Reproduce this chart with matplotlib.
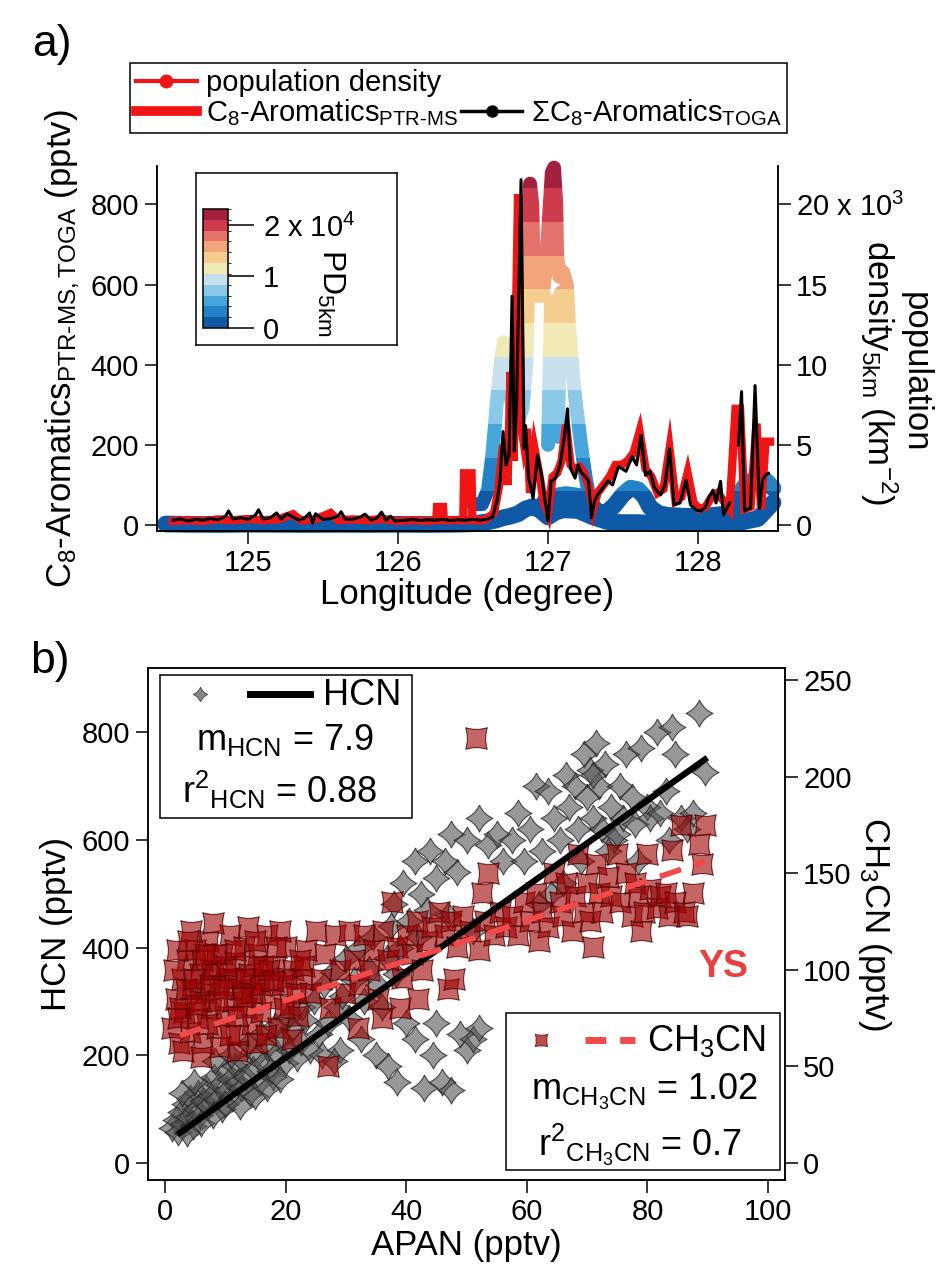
import numpy as np
import matplotlib
matplotlib.use("Agg")
import matplotlib.pyplot as plt
from matplotlib.path import Path
from matplotlib.lines import Line2D
from matplotlib.patches import Rectangle
from matplotlib.colors import BoundaryNorm, ListedColormap
from matplotlib.cm import ScalarMappable

plt.rcParams['font.family'] = ['Liberation Sans', 'DejaVu Sans']
plt.rcParams['mathtext.fontset'] = 'custom'
plt.rcParams['mathtext.rm'] = 'Liberation Sans'
plt.rcParams['mathtext.it'] = 'Liberation Sans:italic'
plt.rcParams['mathtext.bf'] = 'Liberation Sans:bold'
plt.rcParams['mathtext.default'] = 'regular'
plt.rcParams['axes.linewidth'] = 1.1

# ------------------------------------------------------------
# panel a data: longitude tracks
# ------------------------------------------------------------
# population density (km-2), passes of the flight track (nan = break)
pd_lon_1 = [124.45, 124.6, 124.8, 125.0, 125.2, 125.4, 125.6, 125.8, 126.0, 126.2,
            126.4, 126.5, 126.6, 126.65, 126.7, 126.75, 126.8, 126.85, 126.9, 126.95,
            127.0, 127.05, 127.1, 127.2, 127.3, 127.4, 127.5, 127.6, 127.7, 127.8,
            127.9, 128.0, 128.1, 128.2, 128.3, 128.4, 128.45, 128.5]
pd_val_1 = [60, 40, 30, 50, 40, 30, 40, 30, 40, 30,
            50, 80, 200, 300, 450, 550, 700, 1000, 1150, 900,
            500, 800, 950, 900, 500, 200, 150, 150, 100, 100,
            80, 100, 120, 150, 200, 400, 900, 1400]

pd_lon_2 = [126.50, 126.56, 126.60, 126.63, 126.66, 126.69, 126.705, 126.72, 126.74, 126.77,
            126.80, 126.83, 126.855, 126.87, 126.88, 126.895, 126.905, 126.93, 126.965, 126.985,
            127.005, 127.025, 127.04, 127.055, 127.06, 127.075, 127.10, 127.125, 127.14, 127.16,
            127.18, 127.20, 127.22, 127.25, 127.28, 127.32, np.nan,
            127.00, 127.02, np.nan, 127.065, 127.085]
pd_val_2 = [1300, 1300, 2200, 4500, 7800, 10500, 11400, 10300, 8500, 7000,
            6500, 7300, 10000, 16000, 21300, 20000, 16000, 14300, 14300, 16000,
            19000, 22000, 22300, 20000, 17000, 15500, 15800, 15000, 12500, 10000,
            8000, 6500, 5000, 3000, 1500, 600, np.nan,
            5000, 14000, np.nan, 5500, 14500]

pd_lon_3 = [126.98, 127.05, 127.12, 127.20, 127.27, 127.32, 127.38, 127.44, 127.50, 127.55,
            127.60, 127.64, 127.68, 127.74, 127.80, 127.90, 128.00, 128.10, 128.20, 128.26,
            128.30, 128.34, 128.40, 128.46, 128.50]
pd_val_3 = [1500, 1800, 1900, 1800, 1500, 900, 700, 1200, 1900, 2300,
            2200, 1800, 1100, 700, 600, 550, 550, 600, 700, 1200,
            2300, 2700, 2800, 2700, 2300]

pd_levels = [0, 2100, 4200, 6300, 8400, 10500, 12600, 14700, 16800, 18900, 21000, 23100]
pd_colors = ['#0f5aa6', '#2383c6', '#46a6dc', '#8cc8e8', '#c6e0ee', '#f1eab6',
             '#f5cd8e', '#f1a578', '#e4726a', '#cd3b4d', '#a3213f']

# C8-aromatics PTR-MS (pptv)
ptr_lon = [124.50, 124.60, 124.70, 124.80, 124.90, 125.00, 125.10, 125.20, 125.30, 125.35,
           125.45, 125.55, 125.60, 125.70, 125.80, 125.90, 126.00, 126.10, 126.20, 126.255,
           126.26, 126.30, 126.305, 126.40, 126.435, 126.44, 126.49, 126.495, 126.58, 126.64,
           126.67, 126.70, 126.73, 126.75, 126.77, 126.80, 126.82, 126.84, 126.86, 126.88,
           126.91, 126.94, 126.97, 127.00, 127.03, 127.06, 127.09, 127.12, 127.15, 127.18,
           127.21, 127.24, 127.27, 127.30, 127.33, 127.37, 127.41, 127.45, 127.49, 127.53,
           127.57, 127.61, 127.65, 127.69, 127.73, 127.77, 127.81, 127.85, 127.89, 127.93,
           127.97, 128.01, 128.05, 128.09, 128.13, 128.17, 128.21, 128.25, 128.28, 128.31,
           128.35, 128.39, 128.42, 128.45, 128.48]
ptr_val = [10, 12, 10, 14, 12, 15, 12, 14, 27, 12,
           14, 30, 12, 14, 12, 15, 10, 12, 10, 12,
           45, 45, 12, 12, 12, 129, 129, 12, 12, 30,
           90, 200, 100, 382, 160, 825, 250, 200, 240, 80,
           190, 130, 60, 30, 120, 130, 160, 250, 150, 140,
           145, 130, 100, 40, 80, 100, 120, 150, 150, 160,
           180, 233, 140, 120, 80, 90, 190, 60, 70, 130,
           55, 40, 45, 70, 80, 60, 40, 290, 290, 40,
           45, 253, 40, 208, 208]

# sum of C8-aromatics TOGA (pptv)
toga_lon = [124.50, 124.55, 124.60, 124.65, 124.70, 124.75, 124.80, 124.85, 124.87, 124.90,
            124.95, 125.00, 125.05, 125.07, 125.10, 125.15, 125.19, 125.22, 125.26, 125.30,
            125.34, 125.38, 125.41, 125.43, 125.45, 125.50, 125.55, 125.60, 125.62, 125.65,
            125.70, 125.75, 125.78, 125.82, 125.86, 125.89, 125.92, 125.95, 125.98, 126.05,
            126.10, 126.15, 126.20, 126.25, 126.30, 126.35, 126.40, 126.45, 126.50, 126.55,
            126.60, 126.63, 126.66, 126.68, 126.70, 126.72, 126.74, 126.76, 126.775, 126.79,
            126.82, 126.84, 126.85, 126.87, 126.90, 126.93, 126.96, 126.98, 127.00, 127.02,
            127.05, 127.08, 127.11, 127.13, 127.15, 127.18, 127.20, 127.22, 127.25, 127.27,
            127.29, 127.31, 127.33, 127.36, 127.40, 127.43, 127.47, 127.52, 127.56, 127.59,
            127.62, 127.65, 127.68, 127.71, 127.75, 127.78, 127.81, 127.84, 127.88, 127.92,
            127.95, 127.99, 128.02, 128.05, 128.07, 128.10, 128.12, 128.15, 128.17, 128.19,
            128.21, 128.24, 128.27, 128.29, 128.31, 128.33, 128.35, 128.38, 128.41, 128.43,
            128.45, 128.47]
toga_val = [12, 15, 10, 14, 12, 16, 13, 22, 35, 15,
            18, 14, 25, 38, 15, 18, 30, 15, 28, 20,
            12, 18, 30, 5, 28, 14, 16, 22, 33, 14,
            15, 20, 27, 12, 18, 32, 12, 22, 10, 12,
            14, 11, 13, 12, 14, 11, 13, 12, 14, 12,
            15, 20, 60, 110, 233, 150, 174, 571, 184, 300,
            862, 191, 248, 120, 67, 174, 117, 60, 10, 109,
            117, 149, 224, 290, 141, 117, 150, 132, 120, 109,
            18, 60, 75, 90, 110, 100, 146, 134, 171, 150,
            224, 124, 134, 92, 75, 100, 191, 50, 55, 112,
            50, 37, 35, 45, 67, 87, 55, 109, 25, 40,
            55, np.nan, 200, 333, 35, 40, 42, 348, 42, 112,
            125, 129]

# ------------------------------------------------------------
# panel b data: HCN and CH3CN vs APAN (pptv)
# ------------------------------------------------------------
hcn_apan = [1.2, 1.8, 2.1, 2.6, 3.0, 3.3, 3.9, 4.2, 4.6, 5.1,
            5.5, 5.9, 6.3, 6.8, 7.2, 7.7, 8.1, 8.6, 9.0, 9.4,
            9.9, 10.3, 10.8, 11.2, 11.7, 12.1, 12.6, 13.0, 13.5, 14.1,
            14.6, 15.2, 15.7, 16.3, 16.9, 17.4, 18.0, 18.6, 19.3, 19.9,
            20.6, 21.2, 21.9, 22.5, 23.2, 24.0, 2.8, 4.8, 6.0, 7.9,
            10.0, 12.4, 14.9, 17.0, 19.0, 3.6, 8.3, 11.0, 13.8, 16.0,
            20.2, 22.8, 18.3,
            24.8, 25.5, 26.3, 27.0, 27.8, 28.5, 29.3, 30.0, 30.6, 31.4,
            32.1, 33.0, 33.8, 34.5, 35.3, 36.0, 36.8, 37.5, 38.3, 39.0,
            29.0, 32.5, 35.0, 37.0, 38.5, 40.0, 26.0, 28.0,
            41.5, 43.0, 44.5, 46.0, 47.5, 49.0, 50.0, 51.0, 52.0, 45.0,
            38.0, 39.5, 40.5, 41.5, 42.5, 43.5, 44.0, 45.0, 46.5, 47.5,
            48.5, 50.0, 51.0, 52.0, 53.5, 55.0, 56.0, 42.0, 47.0,
            57.5, 58.5, 59.5, 60.5, 61.5, 62.5, 63.5, 64.5, 65.5, 66.5,
            67.0, 68.0, 68.5, 69.5, 70.0, 70.5, 71.0, 71.5, 72.0, 72.5,
            73.0, 74.0, 74.5, 75.5, 76.0, 76.5, 77.5, 78.0, 79.0, 80.0,
            80.5, 81.5, 82.0, 83.0, 84.0, 84.5, 85.5, 86.5, 87.5, 88.5,
            89.5, 69.0, 66.0, 73.5, 78.5, 62.0, 64.0, 71.0, 75.0, 83.5]
hcn_val = [65, 80, 58, 95, 72, 110, 85, 120, 68, 100,
           130, 90, 115, 140, 105, 125, 160, 118, 145, 100,
           170, 135, 155, 120, 180, 150, 140, 190, 160, 130,
           175, 200, 150, 185, 215, 170, 160, 205, 230, 185,
           210, 250, 195, 225, 265, 210, 130, 150, 75, 90,
           110, 105, 125, 140, 155, 55, 190, 200, 220, 240,
           270, 290, 255,
           300, 240, 330, 260, 355, 290, 310, 380, 270, 340,
           400, 300, 360, 420, 330, 290, 380, 440, 350, 400,
           210, 230, 200, 180, 150, 260, 200, 190,
           230, 140, 200, 150, 135, 240, 210, 230, 250, 260,
           480, 520, 450, 560, 500, 470, 580, 530, 560, 610,
           540, 600, 430, 640, 590, 610, 560, 420, 460,
           600, 650, 560, 620, 700, 580, 690, 640, 600, 720,
           660, 700, 620, 760, 680, 730, 640, 780, 700, 620,
           740, 660, 600, 700, 640, 760, 680, 630, 770, 660,
           640, 800, 650, 690, 810, 760, 640, 620, 650, 835,
           725, 560, 520, 580, 560, 480, 500, 720, 610, 600]

ch3cn_apan = [1.2, 1.8, 2.3, 2.8, 3.2, 3.7, 4.1, 4.5, 5.0, 5.4,
              5.9, 6.3, 6.8, 7.2, 7.7, 8.1, 8.6, 9.0, 9.5, 9.9,
              10.4, 10.8, 11.3, 11.7, 12.2, 12.6, 13.1, 13.5, 14.0, 14.5,
              15.0, 15.5, 16.0, 16.5, 17.0, 17.6, 18.2, 18.8, 19.4, 20.0,
              20.7, 21.3, 22.0, 22.7, 23.4, 24.1, 3.0, 6.0, 9.2, 12.0,
              15.2, 4.4, 8.0, 13.8, 19.0, 2.0, 7.0, 10.8, 16.8, 21.0,
              11.4, 7.6, 5.8, 14.7,
              1.5, 2.5, 3.5, 4.8, 6.1, 7.4, 8.8, 10.1, 11.6, 13.3,
              14.2, 15.8, 17.3, 18.5, 20.3, 21.8, 23.0, 2.2, 5.2, 8.4,
              12.9, 16.2, 19.7, 3.9, 9.7, 14.9, 6.6, 11.9, 17.9, 22.4,
              25.0, 25.8, 26.6, 27.4, 28.2, 29.0, 29.8, 30.6, 31.4, 32.2,
              33.0, 33.8, 34.6, 35.4, 36.2, 37.0, 37.6, 38.5, 39.3, 40.2,
              41.0, 41.8, 42.6, 43.5, 44.3, 27.0, 36.0, 39.0, 32.0, 42.0,
              45.5, 46.5, 47.5, 48.5, 49.5, 50.5, 51.5, 52.0, 53.0, 53.5,
              54.5, 55.5, 56.5, 57.5, 58.5, 59.5, 47.0, 48.0, 52.5,
              60.5, 61.5, 62.5, 63.5, 64.5, 65.5, 66.0, 66.5, 67.5, 68.0,
              68.5, 69.5, 70.0, 70.5, 71.5, 72.0, 72.5, 73.5, 74.0, 75.0,
              75.5, 76.5, 77.5, 78.0, 78.5, 79.5, 80.0, 80.5, 81.5, 82.0,
              83.0, 83.5, 84.0, 84.5, 85.5, 86.0, 86.5, 87.5, 88.5, 89.0,
              89.5, 62.0, 71.0, 79.0]
ch3cn_val = [70, 85, 62, 95, 78, 105, 68, 90, 110, 75,
             98, 62, 88, 115, 80, 100, 70, 92, 108, 76,
             96, 118, 84, 104, 66, 90, 112, 80, 98, 72,
             88, 108, 78, 95, 118, 85, 102, 70, 92, 112,
             82, 100, 76, 95, 110, 88, 58, 55, 60, 58,
             62, 120, 124, 122, 120, 110, 72, 66, 66, 64,
             95, 100, 84, 102,
             100, 80, 90, 95, 105, 92, 84, 102, 110, 96,
             88, 92, 100, 112, 96, 88, 102, 75, 82, 108,
             86, 102, 80, 115, 90, 115, 108, 76, 94, 105,
             120, 95, 108, 80, 118, 100, 88, 120, 105, 92,
             118, 100, 110, 85, 120, 105, 135, 112, 96, 118,
             108, 125, 100, 115, 122, 50, 75, 80, 70, 85,
             130, 118, 125, 112, 128, 120, 220, 110, 125, 150,
             118, 130, 122, 128, 118, 135, 90, 95, 140,
             125, 140, 130, 122, 150, 135, 128, 145, 120, 138,
             160, 130, 145, 125, 155, 140, 130, 148, 138, 160,
             135, 150, 128, 145, 138, 130, 160, 142, 132, 138,
             140, 128, 162, 135, 175, 130, 128, 140, 165, 155,
             175, 115, 112, 120]

fit_apan = [2.5, 89.5]
hcn_fit = [56, 749]
ch3cn_fit = [66, 156]

W, H = 944, 1285


def box(l, t, r, b):
    # pixel box -> figure fraction rect
    return [l / W, 1 - b / H, (r - l) / W, (b - t) / H]


fig = plt.figure(figsize=(W / 100, H / 100), dpi=100)

# ------------------------------------------------------------
# panel a
# ------------------------------------------------------------
ax_a = fig.add_axes(box(157, 166, 778, 531))
ax_pd = ax_a.twinx()
ax_a.set_zorder(ax_pd.get_zorder() + 1)
ax_a.patch.set_visible(False)

tracks = [(pd_lon_1, pd_val_1, 12), (pd_lon_3, pd_val_3, 12), (pd_lon_2, pd_val_2, 10)]
band_lo = [-5000] + pd_levels[1:-1]
band_hi = pd_levels[1:-1] + [40000]
for i, col in enumerate(pd_colors):
    clip = Rectangle((124.0, band_lo[i]), 5.0, band_hi[i] - band_lo[i], transform=ax_pd.transData)
    for lon, val, lw in tracks:
        ln, = ax_pd.plot(lon, val, color=col, lw=lw, solid_capstyle='round',
                         solid_joinstyle='round')
        ln.set_clip_path(clip)

ax_a.plot(ptr_lon, ptr_val, color='#f01414', lw=6, solid_joinstyle='miter')
ax_a.plot(toga_lon, toga_val, color='black', lw=2.2)

ax_a.set_xlim(124.393, 128.533)
ax_a.set_ylim(-15, 896)
ax_pd.set_ylim(-375, 22400)
ax_a.set_xticks([125, 126, 127, 128])
ax_a.set_yticks([0, 200, 400, 600, 800])
ax_pd.set_yticks([0, 5000, 10000, 15000, 20000])
ax_pd.set_yticklabels(['0', '5', '10', '15', '20 x 10$^3$'])
for a in (ax_a, ax_pd):
    a.spines['top'].set_visible(False)
    a.tick_params(direction='out', length=9, width=1.1, labelsize=21, pad=4)

ax_a.set_xlabel('Longitude (degree)', fontsize=25, labelpad=1)
ax_a.set_ylabel('C$_8$-Aromatics$_{PTR\u2010MS,TOGA}$ (pptv)', fontsize=25, labelpad=6)
fig.text(0.948, 0.710, 'population\ndensity$_{5km}$ (km$^{-2}$)', rotation=-90,
         ha='center', va='center', fontsize=25, multialignment='center', linespacing=1.0)
fig.text(0.055, 0.965, 'a)', fontsize=32, ha='center', va='center')

# colorbar inset
frame = fig.add_axes(box(196, 173, 397, 345))
frame.set_xticks([])
frame.set_yticks([])
frame.set_facecolor('white')
cax = fig.add_axes(box(203, 209, 228, 328))
norm = BoundaryNorm(pd_levels, len(pd_colors))
cb = fig.colorbar(ScalarMappable(norm=norm, cmap=ListedColormap(pd_colors)), cax=cax,
                  ticks=[0, 10000, 20000])
cb.ax.set_yticklabels(['0', '1', '2 x 10$^4$'])
cb.outline.set_linewidth(1.1)
cax.tick_params(length=19, width=1.1, labelsize=21, pad=6)
fig.text(0.350, 0.772, 'PD$_{5km}$', rotation=-90, ha='center', va='center', fontsize=23)

# top legend
h_pd = Line2D([], [], color='#f01414', lw=3, marker='o', markersize=9)
h_ptr = Line2D([], [], color='#f01414', lw=7)
h_blank = Line2D([], [], alpha=0)
h_toga = Line2D([], [], color='black', lw=2.5, marker='o', markersize=8)
leg = fig.legend([h_pd, h_ptr, h_blank, h_toga],
                 ['population density', 'C$_8$-Aromatics$_{PTR\u2010MS}$', '',
                  '$\\Sigma$C$_8$-Aromatics$_{TOGA}$'],
                 ncol=2, loc='upper left', bbox_to_anchor=(130 / W, 1 - 63 / H),
                 fontsize=21, handlelength=2.1, handletextpad=0.3, columnspacing=0.1,
                 labelspacing=0.0, borderpad=0.2, borderaxespad=0,
                 fancybox=False, edgecolor='black', framealpha=1)
leg.get_frame().set_linewidth(1.1)

# ------------------------------------------------------------
# panel b
# ------------------------------------------------------------
def star_path(rot, c):
    pts = [(0, 1), (c, c), (1, 0), (c, -c), (0, -1), (-c, -c), (-1, 0), (-c, c), (0, 1)]
    codes = [Path.MOVETO] + [Path.CURVE3] * 8
    ang = np.deg2rad(rot)
    rm = np.array([[np.cos(ang), -np.sin(ang)], [np.sin(ang), np.cos(ang)]])
    verts = np.array(pts) @ rm.T
    return Path(verts, codes)


gray_star = star_path(0, 0.3)
red_star = star_path(45, 0.34)

ax_b = fig.add_axes(box(148, 668, 785, 1180))
ax_b2 = ax_b.twinx()

ax_b.scatter(hcn_apan, hcn_val, marker=gray_star, s=380, facecolor=(0.33, 0.33, 0.33, 0.6),
             edgecolor=(0.15, 0.15, 0.15, 0.8), linewidth=0.8, zorder=2)
ax_b2.scatter(ch3cn_apan, ch3cn_val, marker=red_star, s=240, facecolor=(0.62, 0.0, 0.0, 0.6),
              edgecolor=(0.3, 0.0, 0.0, 0.8), linewidth=0.8, zorder=2)
ax_b2.plot(fit_apan, hcn_fit, color='black', lw=4.5, transform=ax_b.transData, zorder=3)
ax_b2.plot(fit_apan, ch3cn_fit, color='#f24a4a', lw=4, dashes=(4, 2.5), zorder=4)

ax_b.set_xlim(-2.8, 102.8)
ax_b.set_ylim(-31.6, 919)
ax_b2.set_ylim(-8.8, 256.2)
ax_b.set_xticks([0, 20, 40, 60, 80, 100])
ax_b.set_yticks([0, 200, 400, 600, 800])
ax_b2.set_yticks([0, 50, 100, 150, 200, 250])
for a in (ax_b, ax_b2):
    a.tick_params(direction='out', length=9, width=1.1, labelsize=21, pad=4)
ax_b.set_xlabel('APAN (pptv)', fontsize=25, labelpad=2)
ax_b.set_ylabel('HCN (pptv)', fontsize=25, labelpad=6)
ax_b2.set_ylabel('CH$_3$CN (pptv)', fontsize=25, rotation=-90, labelpad=30)
fig.text(0.053, 0.485, 'b)', fontsize=32, ha='center', va='center')

# statistics boxes
T = ax_b2.transAxes
ax_b2.add_patch(Rectangle((0.019, 0.707), 0.395, 0.279, transform=T, facecolor='white',
                          edgecolor='black', lw=1.1, zorder=6))
ax_b2.scatter([0.082], [0.949], transform=T, marker=gray_star, s=110,
              facecolor=(0.33, 0.33, 0.33, 0.7), edgecolor=(0.15, 0.15, 0.15, 0.8),
              linewidth=0.6, zorder=7)
ax_b2.plot([0.160, 0.254], [0.949, 0.949], transform=T, color='black', lw=5, zorder=7)
ax_b2.text(0.274, 0.947, 'HCN', transform=T, fontsize=26, ha='left', va='center', zorder=7)
ax_b2.text(0.215, 0.859, 'm$_{HCN}$ = 7.9', transform=T, fontsize=26, ha='center',
           va='center', zorder=7)
ax_b2.text(0.207, 0.762, 'r$^2$$_{HCN}$ = 0.88', transform=T, fontsize=26, ha='center',
           va='center', zorder=7)

ax_b2.add_patch(Rectangle((0.562, 0.020), 0.430, 0.306, transform=T, facecolor='white',
                          edgecolor='black', lw=1.1, zorder=6))
ax_b2.scatter([0.617], [0.273], transform=T, marker=red_star, s=80,
              facecolor=(0.62, 0.0, 0.0, 0.7), edgecolor=(0.3, 0.0, 0.0, 0.8),
              linewidth=0.6, zorder=7)
ax_b2.plot([0.686, 0.765], [0.273, 0.273], transform=T, color='#f24a4a', lw=5,
           dashes=(3, 2), zorder=7)
ax_b2.text(0.783, 0.271, 'CH$_3$CN', transform=T, fontsize=26, ha='left', va='center', zorder=7)
ax_b2.text(0.780, 0.172, 'm$_{CH_3CN}$ = 1.02', transform=T, fontsize=26, ha='center',
           va='center', zorder=7)
ax_b2.text(0.772, 0.068, 'r$^2$$_{CH_3CN}$ = 0.7', transform=T, fontsize=26, ha='center',
           va='center', zorder=7)
ax_b2.text(0.903, 0.416, 'YS', transform=T, fontsize=27, fontweight='bold', color='#e8403f',
           ha='center', va='center', zorder=7)

fig.savefig('out.png', dpi=100)
